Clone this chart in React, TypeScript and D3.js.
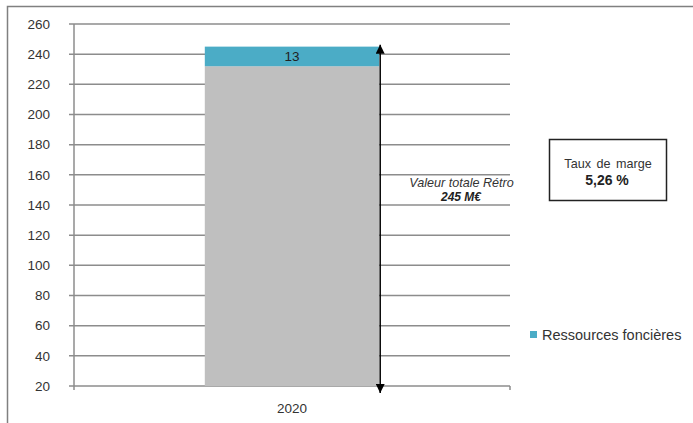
import React, { useRef, useEffect } from 'react'
import * as d3 from 'd3'

const categories = ['2020']
const baseValues = [232]
const foncierValues = [13]
const yTicks = [20, 40, 60, 80, 100, 120, 140, 160, 180, 200, 220, 240, 260]
const totalLabel = ['Valeur totale Rétro', '245 M€']
const marginLabel = ['Taux de marge', '5,26 %']
const legendLabel = 'Ressources foncières'

const FONT = 'Liberation Sans, Arial, sans-serif'

const App = () => {
  const ref = useRef<SVGSVGElement>(null)

  useEffect(() => {
    const svg = d3.select(ref.current)
    svg.selectAll('*').remove()

    const width = 693
    const height = 423
    const left = 74
    const right = 510
    const top = 24
    const bottom = 386

    const x = d3.scaleBand().domain(categories).range([left, right]).paddingInner(0.6).paddingOuter(0.3)
    const y = d3.scaleLinear().domain([20, 260]).range([bottom, top])

    // outer frame (top + left)
    svg.append('path')
      .attr('d', `M7.5,${height} L7.5,6.5 L${width},6.5`)
      .attr('fill', 'none')
      .attr('stroke', '#808080')
      .attr('stroke-width', 1.5)

    // gridlines
    svg.append('g')
      .selectAll('line')
      .data(yTicks.slice(1))
      .enter()
      .append('line')
      .attr('x1', left - 5)
      .attr('x2', right)
      .attr('y1', d => y(d))
      .attr('y2', d => y(d))
      .attr('stroke', '#8c8c8c')
      .attr('stroke-width', 1.5)

    // y axis line
    svg.append('line')
      .attr('x1', left).attr('x2', left)
      .attr('y1', top).attr('y2', bottom + 4)
      .attr('stroke', '#8c8c8c').attr('stroke-width', 1.5)

    // x axis line + end tick
    svg.append('line')
      .attr('x1', left - 5).attr('x2', right)
      .attr('y1', bottom).attr('y2', bottom)
      .attr('stroke', '#8c8c8c').attr('stroke-width', 1.5)
    svg.append('line')
      .attr('x1', right).attr('x2', right)
      .attr('y1', bottom).attr('y2', bottom + 4)
      .attr('stroke', '#8c8c8c').attr('stroke-width', 1.5)

    // y tick labels
    svg.append('g')
      .selectAll('text')
      .data(yTicks)
      .enter()
      .append('text')
      .attr('x', 50)
      .attr('y', d => y(d))
      .attr('dy', '0.35em')
      .attr('text-anchor', 'end')
      .attr('font-family', FONT)
      .attr('font-size', 13.5)
      .attr('fill', '#333')
      .text(d => d)

    // x labels
    svg.append('g')
      .selectAll('text')
      .data(categories)
      .enter()
      .append('text')
      .attr('x', d => (x(d) as number) + x.bandwidth() / 2)
      .attr('y', 413)
      .attr('text-anchor', 'middle')
      .attr('font-family', FONT)
      .attr('font-size', 13.5)
      .attr('fill', '#333')
      .text(d => d)

    // stacked bars
    const stacked = categories.map((c, i) => ({ c, base: baseValues[i], fonc: foncierValues[i] }))
    const g = svg.append('g')
    g.selectAll('.base')
      .data(stacked)
      .enter()
      .append('rect')
      .attr('x', d => x(d.c) as number)
      .attr('width', x.bandwidth())
      .attr('y', d => y(d.base))
      .attr('height', d => y(20) - y(d.base))
      .attr('fill', '#bfbfbf')
    g.selectAll('.fonc')
      .data(stacked)
      .enter()
      .append('rect')
      .attr('x', d => x(d.c) as number)
      .attr('width', x.bandwidth())
      .attr('y', d => y(d.base + d.fonc))
      .attr('height', d => y(d.base) - y(d.base + d.fonc))
      .attr('fill', '#4bacc6')
    g.selectAll('.lbl')
      .data(stacked)
      .enter()
      .append('text')
      .attr('x', d => (x(d.c) as number) + x.bandwidth() / 2)
      .attr('y', d => (y(d.base) + y(d.base + d.fonc)) / 2)
      .attr('dy', '0.36em')
      .attr('text-anchor', 'middle')
      .attr('font-family', FONT)
      .attr('font-size', 13.5)
      .attr('fill', '#222')
      .text(d => d.fonc)

    // double arrow for total
    const defs = svg.append('defs')
    defs.append('marker')
      .attr('id', 'ah')
      .attr('viewBox', '0 0 10 10')
      .attr('refX', 10).attr('refY', 5)
      .attr('markerWidth', 9).attr('markerHeight', 9)
      .attr('markerUnits', 'userSpaceOnUse')
      .attr('orient', 'auto-start-reverse')
      .append('path')
      .attr('d', 'M0,0 L10,5 L0,10 Z')
      .attr('fill', '#000')
    const ax = (x('2020') as number) + x.bandwidth() + 1
    const total = baseValues[0] + foncierValues[0]
    svg.append('line')
      .attr('x1', ax).attr('x2', ax)
      .attr('y1', y(total) - 2).attr('y2', bottom + 7)
      .attr('stroke', '#000').attr('stroke-width', 1.5)
      .attr('marker-start', 'url(#ah)')
      .attr('marker-end', 'url(#ah)')

    // total annotation
    svg.append('text')
      .attr('x', 461.5).attr('y', 187)
      .attr('text-anchor', 'middle')
      .attr('font-family', FONT)
      .attr('font-size', 12.6)
      .attr('font-style', 'italic')
      .attr('fill', '#333')
      .text(totalLabel[0])
    svg.append('text')
      .attr('x', 461).attr('y', 201)
      .attr('text-anchor', 'middle')
      .attr('font-family', FONT)
      .attr('font-size', 12)
      .attr('font-style', 'italic')
      .attr('font-weight', 'bold')
      .attr('fill', '#222')
      .text(totalLabel[1])

    // margin box
    svg.append('rect')
      .attr('x', 549.5).attr('y', 139.5)
      .attr('width', 117).attr('height', 61)
      .attr('fill', '#fff')
      .attr('stroke', '#222').attr('stroke-width', 1.5)
    svg.append('text')
      .attr('x', 608).attr('y', 168)
      .attr('text-anchor', 'middle')
      .attr('font-family', FONT)
      .attr('font-size', 12.6)
      .attr('word-spacing', 2)
      .attr('fill', '#333')
      .text(marginLabel[0])
    svg.append('text')
      .attr('x', 607).attr('y', 185)
      .attr('text-anchor', 'middle')
      .attr('font-family', FONT)
      .attr('font-size', 14)
      .attr('font-weight', 'bold')
      .attr('fill', '#222')
      .text(marginLabel[1])

    // legend
    svg.append('rect')
      .attr('x', 530).attr('y', 331)
      .attr('width', 7).attr('height', 7)
      .attr('fill', '#4bacc6')
    svg.append('text')
      .attr('x', 542).attr('y', 340)
      .attr('font-family', FONT)
      .attr('font-size', 14.5)
      .attr('fill', '#333')
      .text(legendLabel)
  }, [])

  return (
    <svg ref={ref} width={693} height={423} style={{ position: 'absolute', left: 0, top: 0, background: '#fff' }} />
  )
}

export default App
